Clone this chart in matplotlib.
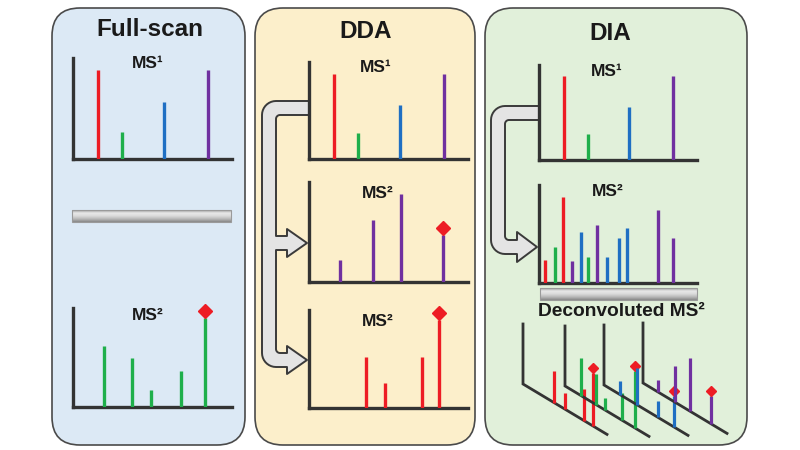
import numpy as np
import matplotlib
matplotlib.use("Agg")
import matplotlib.pyplot as plt
from matplotlib.patches import FancyBboxPatch, Polygon, Rectangle
from matplotlib.transforms import Affine2D, ScaledTranslation
from matplotlib.colors import LinearSegmentedColormap

plt.rcParams['font.family'] = ['Liberation Sans', 'DejaVu Sans']

# ------------------------------------------------------------------ data
panel_titles = ["Full-scan", "DDA", "DIA"]

RED, GREEN, BLUE, PURPLE = "#ED1C24", "#1FAF4B", "#1F6FC3", "#7030A0"

# MS1 survey spectrum (same precursors in all three workflows)
ms1_mz = [16, 31, 57, 85]
ms1_int = [88, 27, 56, 88]
ms1_col = [RED, GREEN, BLUE, PURPLE]

# Full-scan MS2 (all-ion fragmentation, shown for the green precursor)
fs_ms2_mz = [19.5, 37, 49, 68, 83]
fs_ms2_int = [62, 49, 17, 36, 90]
fs_ms2_col = [GREEN] * 5
fs_ms2_prec = 4

# DDA MS2 spectra
dda2a_mz = [19.5, 40, 58, 84]
dda2a_int = [22, 62, 88, 47]
dda2a_col = [PURPLE] * 4
dda2a_prec = 3

dda2b_mz = [36, 48, 71, 82]
dda2b_int = [52, 26, 52, 90]
dda2b_col = [RED] * 4
dda2b_prec = 3

# DIA multiplexed MS2
dia2_mz = [3.8, 10, 15, 21, 26.6, 31, 36.7, 43, 50.6, 56, 75, 85]
dia2_int = [23, 37, 88, 22, 52, 27, 59, 27, 46, 56, 74, 46]
dia2_col = [RED, GREEN, RED, PURPLE, BLUE, GREEN, PURPLE,
            BLUE, BLUE, BLUE, PURPLE, PURPLE]

# Deconvoluted MS2 spectra (one per precursor)
deconv_mz = [[31, 42, 61, 70],
             [16, 31, 40, 57, 70],
             [16, 33, 54, 70],
             [15, 32, 47, 68]]
deconv_int = [[32, 16, 32, 53],
              [38, 31, 12, 27, 57],
              [14, 37, 16, 31],
              [12, 36, 53, 28]]
deconv_col = [RED, GREEN, BLUE, PURPLE]

# ------------------------------------------------------------------ layout
W, H = 800, 450
fig = plt.figure(figsize=(8, 4.5), dpi=100)
ax = fig.add_axes([0, 0, 1, 1])
ax.set_xlim(0, W)
ax.set_ylim(H, 0)
ax.axis("off")

AXC = "#333333"
panels = [(52, 8, 245, 445, "#DCE9F5"),
          (255, 8, 475, 445, "#FCEFCB"),
          (485, 8, 747, 445, "#E1F0DA")]
title_pos = [(150, 29), (366, 31), (610, 33)]

for (x0, y0, x1, y1, fc), t, (tx, ty) in zip(panels, panel_titles, title_pos):
    ax.add_patch(FancyBboxPatch((x0, y0), x1 - x0, y1 - y0,
                                boxstyle="round,pad=0,rounding_size=28",
                                fc=fc, ec="#4A4A4A", lw=1.2, zorder=1))
    ax.text(tx, ty, t, ha="center", va="center", fontsize=17.5,
            fontweight="bold", color="#1A1A1A", zorder=5)


def spec_axes(box):
    x0, yt, x1, yb = box
    a = fig.add_axes([x0 / W, 1 - yb / H, (x1 - x0) / W, (yb - yt) / H])
    a.set_xlim(0, 100)
    a.set_ylim(0, 100)
    a.patch.set_visible(False)
    for s in ["top", "right"]:
        a.spines[s].set_visible(False)
    for s in ["left", "bottom"]:
        a.spines[s].set_linewidth(2.4)
        a.spines[s].set_color(AXC)
        a.spines[s].set_capstyle("projecting")
    a.set_xticks([])
    a.set_yticks([])
    return a


def draw_spec(box, mz, inten, cols, prec=None):
    a = spec_axes(box)
    a.vlines(mz, 0, inten, colors=cols, lw=2.4, capstyle="butt", zorder=3)
    if prec is not None:
        off = ScaledTranslation(0, 5 / 72, fig.dpi_scale_trans)
        a.plot([mz[prec]], [inten[prec]], marker="D", ms=7, color=RED,
               mec=RED, ls="none", clip_on=False, zorder=4,
               transform=a.transData + off)
    return a


def label(x, y, txt, size=12.5):
    ax.text(x, y, txt, ha="center", va="center", fontsize=size,
            fontweight="bold", color="#1A1A1A", zorder=6)


# Full-scan
draw_spec((73, 58, 232, 159), ms1_mz, ms1_int, ms1_col)
label(148, 64, "MS¹")
draw_spec((73, 308, 232, 407), fs_ms2_mz, fs_ms2_int, fs_ms2_col, fs_ms2_prec)
label(148, 315, "MS²")

# DDA
draw_spec((309, 62, 468, 159), ms1_mz, ms1_int, ms1_col)
label(376, 67, "MS¹")
draw_spec((309, 182, 468, 282), dda2a_mz, dda2a_int, dda2a_col, dda2a_prec)
label(378, 193, "MS²")
draw_spec((309, 310, 468, 408), dda2b_mz, dda2b_int, dda2b_col, dda2b_prec)
label(378, 322, "MS²")

# DIA
draw_spec((539, 65, 697, 160), ms1_mz, ms1_int, ms1_col)
label(607, 72, "MS¹")
draw_spec((539, 185, 697, 283), dia2_mz, dia2_int, dia2_col)
label(608, 192, "MS²")


# ------------------------------------------------------------------ arrows
def arc(cx, cy, r, a0, a1, n=10):
    t = np.radians(np.linspace(a0, a1, n))
    return list(zip(cx + r * np.cos(t), cy + r * np.sin(t)))


def bracket_arrow(axis_x, ytop, xo, w, branches, base_x, tip_x, hh, R=14, r=4):
    """outline of a gray band arrow leaving the MS1 axis and pointing to MS2 axes"""
    bw = w / 2
    ylast = branches[-1]
    xi = xo + w
    pts = [(axis_x, ytop)]
    pts += arc(xo + R, ytop + R, R, -90, -180)
    pts += arc(xo + R, ylast + bw - R, R, 180, 90)
    pts += [(base_x, ylast + bw), (base_x, ylast + hh), (tip_x, ylast),
            (base_x, ylast - hh), (base_x, ylast - bw)]
    pts += arc(xi + r, ylast - bw - r, r, 90, 180)
    for yb in branches[-2::-1]:
        pts += [(xi, yb + bw), (base_x, yb + bw), (base_x, yb + hh),
                (tip_x, yb), (base_x, yb - hh), (base_x, yb - bw), (xi, yb - bw)]
    pts += arc(xi + r, ytop + w + r, r, 180, 270)
    pts += [(axis_x, ytop + w)]
    ax.add_patch(Polygon(pts, closed=True, fc="#E4E4E4", ec="#3A3A3A",
                         lw=1.4, joinstyle="round", zorder=2))


bracket_arrow(309, 101, 262, 14, [243, 360], 287, 307, 14)
bracket_arrow(539, 106, 491, 14, [247], 517, 537, 15)

# ------------------------------------------------------------------ gray bars
cyl = LinearSegmentedColormap.from_list(
    "cyl", ["#A0A0A0", "#E8E8E8", "#DADADA", "#B8B8B8", "#888888"])
grad = np.linspace(0, 1, 60).reshape(-1, 1)
for (x0, y0, x1, y1) in [(72, 210, 231, 222), (540, 288, 697, 300)]:
    ax.imshow(grad, extent=[x0, x1, y1, y0], cmap=cyl, aspect="auto",
              interpolation="bilinear", zorder=3)
    ax.add_patch(Rectangle((x0, y0), x1 - x0, y1 - y0, fc="none",
                           ec="#9A9A9A", lw=0.8, zorder=3.5))

label(621, 312, "Deconvoluted MS²", size=13.8)

# ------------------------------------------------------------------ deconvoluted spectra
SLOPE = 0.6
corners = [(523, 384), (565, 386), (604, 385), (643, 383)]
AX_LEN, AX_H = 84, 60
off = ScaledTranslation(0, 3.5 / 72, fig.dpi_scale_trans)
for k, ((cx, cy), mz, it, c) in enumerate(zip(corners, deconv_mz, deconv_int, deconv_col)):
    tr = Affine2D.from_values(1, SLOPE, 0, -1, cx, cy) + ax.transData
    z = 10 + 2 * k
    ax.plot([0, 0, AX_LEN], [AX_H, 0, 0], color=AXC, lw=2.0,
            solid_joinstyle="miter", transform=tr, zorder=z)
    ax.vlines(mz, 0, it, colors=c, lw=2.3, capstyle="butt",
              transform=tr, zorder=z + 1)
    ax.plot([mz[-1]], [it[-1]], marker="D", ms=4.8, color=RED, mec=RED,
            ls="none", transform=tr + off, zorder=z + 1.5)

ax.set_xlim(0, W)
ax.set_ylim(H, 0)
fig.savefig("out.png", dpi=100)
